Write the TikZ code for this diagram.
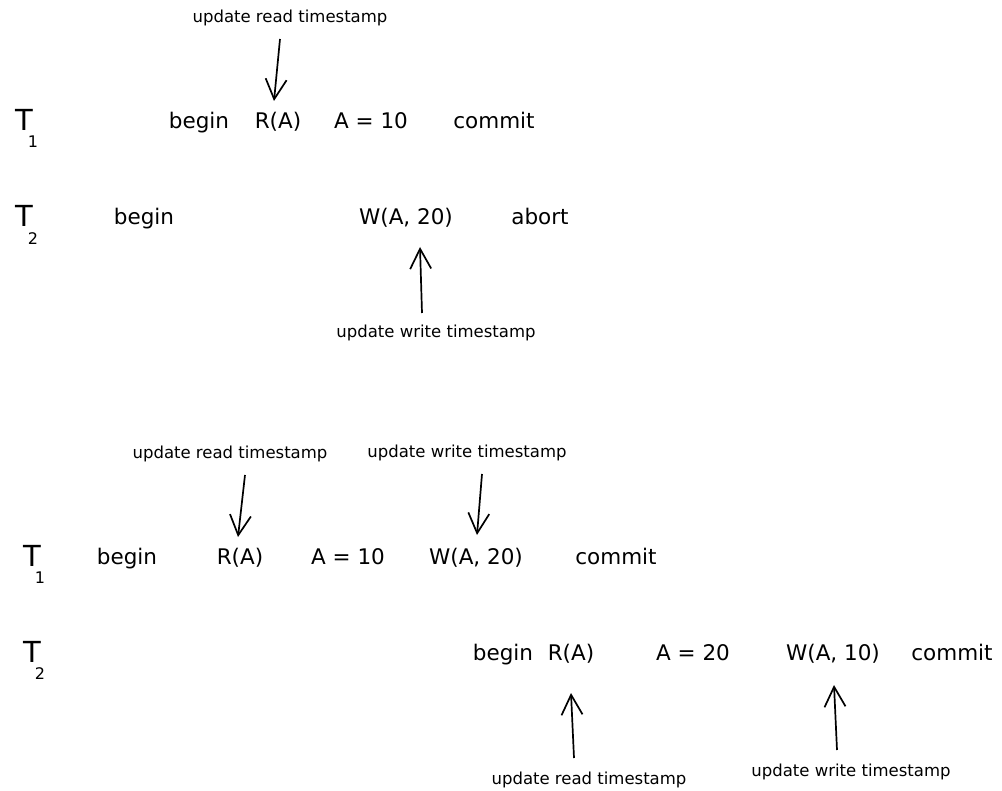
\documentclass[tikz,border=0pt]{standalone}
\usepackage{fontspec}
\setmainfont{DejaVu Sans}
\usetikzlibrary{arrows.meta}
\begin{document}
\begin{tikzpicture}[x=1pt,y=-1pt,
  op/.style={anchor=base,inner sep=0pt,font=\fontsize{21.5}{24}\selectfont},
  note/.style={anchor=base,inner sep=0pt,font=\fontsize{16.5}{19}\selectfont},
  tx/.style={anchor=base,inner sep=0pt,font=\fontsize{29}{32}\selectfont},
  txsub/.style={anchor=base,inner sep=0pt,font=\fontsize{16}{19}\selectfont},
  pointer/.style={line width=1.7pt,-{Straight Barb[length=20pt,width=21pt,line width=1.7pt]}}]
\useasboundingbox (0,0) rectangle (1002,791);

% ---- first schedule: T2 aborts ----
\node[tx] (t1a) at (24,131) {T};
\node[txsub] (s1a) at (33,148) {1};
\node[tx] (t2a) at (24,227) {T};
\node[txsub] (s2a) at (33,245) {2};

\node[op] (b1a) at (199,129) {begin};
\node[op] (r1a) at (278,129) {R(A)};
\node[op] (v1a) at (371,129) {A = 10};
\node[op] (c1a) at (494,129) {commit};

\node[op] (b2a) at (144,225) {begin};
\node[op] (w2a) at (406,225) {W(A, 20)};
\node[op] (ab2a) at (540,225) {abort};

\node[note] (n1) at (290,23) {update read timestamp};
\node[note] (n2) at (436,338) {update write timestamp};

\coordinate (n1s) at (280,39);
\coordinate (n1e) at (274,101);
\coordinate (n2s) at (422,313);
\coordinate (n2e) at (420,247);
\draw[pointer] (n1s) -- (n1e);
\draw[pointer] (n2s) -- (n2e);

% ---- second schedule: both commit ----
\node[tx] (t1b) at (32,566) {T};
\node[txsub] (s1b) at (40,583) {1};
\node[tx] (t2b) at (32,662) {T};
\node[txsub] (s2b) at (40,679) {2};

\node[op] (b1b) at (127,565) {begin};
\node[op] (r1b) at (240,565) {R(A)};
\node[op] (v1b) at (348,565) {A = 10};
\node[op] (w1b) at (476,565) {W(A, 20)};
\node[op] (c1b) at (616,565) {commit};

\node[op] (b2b) at (503,660) {begin};
\node[op] (r2b) at (571,660) {R(A)};
\node[op] (v2b) at (693,660) {A = 20};
\node[op] (w2b) at (833,660) {W(A, 10)};
\node[op] (c2b) at (952,660) {commit};

\node[note] (n3) at (230,459) {update read timestamp};
\node[note] (n4) at (467,458) {update write timestamp};
\node[note] (n5) at (589,784) {update read timestamp};
\node[note] (n6) at (851,776) {update write timestamp};

\coordinate (n3s) at (245,475);
\coordinate (n3e) at (238,537);
\coordinate (n4s) at (482,474);
\coordinate (n4e) at (477,535);
\coordinate (n5s) at (574,758);
\coordinate (n5e) at (571,693);
\coordinate (n6s) at (837,750);
\coordinate (n6e) at (834,685);
\draw[pointer] (n3s) -- (n3e);
\draw[pointer] (n4s) -- (n4e);
\draw[pointer] (n5s) -- (n5e);
\draw[pointer] (n6s) -- (n6e);
\end{tikzpicture}
\end{document}
